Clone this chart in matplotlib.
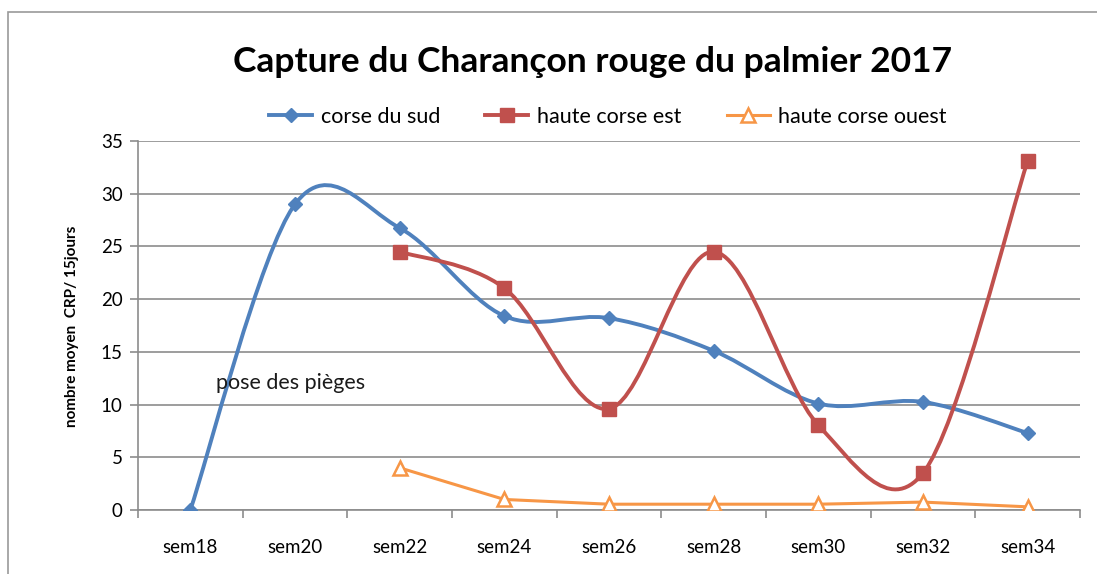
import numpy as np
import matplotlib
matplotlib.use("Agg")
import matplotlib.pyplot as plt
from matplotlib.path import Path
from matplotlib.patches import PathPatch, Rectangle
from matplotlib.lines import Line2D

plt.rcParams['font.family'] = ['Lato', 'DejaVu Sans']

WEEKS = ["sem18", "sem20", "sem22", "sem24", "sem26", "sem28", "sem30", "sem32", "sem34"]
SUD = [0, 29.0, 26.75, 18.4, 18.2, 15.1, 10.1, 10.25, 7.3]
EST = [None, None, 24.5, 21.05, 9.6, 24.5, 8.05, 3.5, 33.1]
OUEST = [None, None, 4.0, 1.0, 0.55, 0.55, 0.55, 0.75, 0.3]

BLUE = "#4F81BD"
RED = "#C0504D"
ORANGE = "#F79646"


def smooth_path(xs, ys):
    """Bezier path through the points (Catmull-Rom, like excel smoothing)."""
    pts = np.column_stack([xs, ys]).astype(float)
    verts = [pts[0]]
    codes = [Path.MOVETO]
    n = len(pts)
    for i in range(n - 1):
        p0 = pts[i - 1] if i > 0 else pts[i]
        p1 = pts[i]
        p2 = pts[i + 1]
        p3 = pts[i + 2] if i + 2 < n else pts[i + 1]
        c1 = p1 + (p2 - p0) / 6.0
        c2 = p2 - (p3 - p1) / 6.0
        verts += [c1, c2, p2]
        codes += [Path.CURVE4] * 3
    return Path(verts, codes)


def valid(vals):
    idx = [i for i, v in enumerate(vals) if v is not None]
    return np.array(idx), np.array([vals[i] for i in idx])


fig = plt.figure(figsize=(10.97, 5.74), dpi=100)
ax = fig.add_axes([138 / 1097, 1 - 510 / 574, (1080 - 138) / 1097, (510 - 141) / 574])

# outer chart frame
fig.patches.append(Rectangle((8 / 1097, -0.1), 1.2, 1 - 12 / 574 + 0.1, transform=fig.transFigure,
                             fill=False, edgecolor="#9a9a9a", linewidth=1.2))

x_sud, y_sud = valid(SUD)
x_est, y_est = valid(EST)
x_oue, y_oue = valid(OUEST)

ax.add_patch(PathPatch(smooth_path(x_sud, y_sud), fill=False, edgecolor=BLUE, lw=2.8,
                       capstyle='round', joinstyle='round', zorder=3))
ax.plot(x_sud, y_sud, linestyle='none', marker='D', ms=7.5, color=BLUE, zorder=4)

ax.add_patch(PathPatch(smooth_path(x_est, y_est), fill=False, edgecolor=RED, lw=2.8,
                       capstyle='round', joinstyle='round', zorder=3))
ax.plot(x_est, y_est, linestyle='none', marker='s', ms=10, color=RED, zorder=4)

ax.plot(x_oue, y_oue, color=ORANGE, lw=2.2, marker='^', ms=10, mfc='white',
        mec=ORANGE, mew=1.8, zorder=4)

ax.set_xlim(-0.5, len(WEEKS) - 0.5)
ax.set_ylim(0, 35)
ax.set_yticks(range(0, 36, 5))
ax.set_xticks(range(len(WEEKS)))
ax.set_xticklabels(WEEKS)
ax.set_xticks(np.arange(-0.5, len(WEEKS), 1), minor=True)
ax.tick_params(axis='x', which='major', length=0, pad=21, labelsize=13.5)
ax.tick_params(axis='x', which='minor', length=6, color="#8c8c8c", width=1.2)
ax.tick_params(axis='y', length=6, color="#8c8c8c", width=1.2, labelsize=13.5, pad=5)
ax.grid(axis='y', color="#8c8c8c", linewidth=1.2)
ax.set_axisbelow(True)
for s in ['top', 'right']:
    ax.spines[s].set_visible(False)
for s in ['left', 'bottom']:
    ax.spines[s].set_color("#8c8c8c")
    ax.spines[s].set_linewidth(1.2)

ax.text(0.25, 12.0, "pose des pièges", fontsize=15.5, color="#1a1a1a", va='center', ha='left')

fig.text(72 / 1097, 1 - 326 / 574, "nombre moyen  CRP/ 15jours", rotation=90,
         fontsize=11, fontweight='bold', ha='center', va='center')

fig.text(593 / 1097, 1 - 62 / 574, "Capture du Charançon rouge du palmier 2017",
         fontsize=25.5, fontweight='bold', ha='center', va='center')

handles = [
    Line2D([], [], color=BLUE, lw=2.8, marker='D', ms=7.5),
    Line2D([], [], color=RED, lw=2.8, marker='s', ms=10),
    Line2D([], [], color=ORANGE, lw=2.2, marker='^', ms=10, mfc='white', mec=ORANGE, mew=1.8),
]
fig.legend(handles, ["corse du sud", "haute corse est", "haute corse ouest"],
           loc='center', bbox_to_anchor=(608 / 1097, 1 - 117 / 574), ncol=3, frameon=False,
           fontsize=15.5, handlelength=2.0, columnspacing=2.1, handletextpad=0.4)

fig.savefig("out.png", dpi=100)
